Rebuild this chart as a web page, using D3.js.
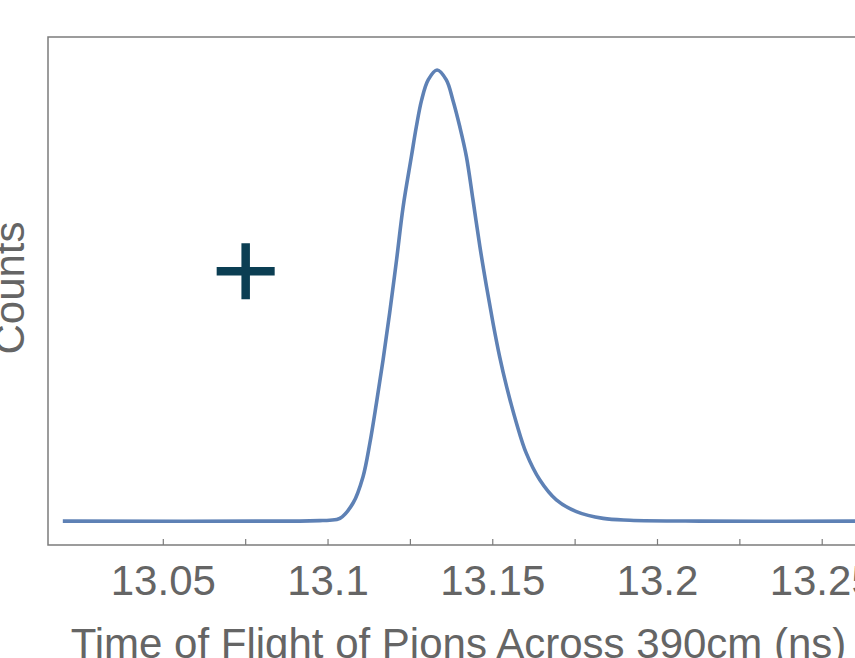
<!DOCTYPE html>
<html>
<head>
<meta charset="utf-8">
<script src="https://cdn.jsdelivr.net/npm/d3@7"></script>
<style>
  body { margin: 0; background: #fff; overflow: hidden; }
  text { font-family: "Liberation Sans", Arial, sans-serif; }
</style>
</head>
<body>
<div id="chart"></div>
<script>
// time of flight (ns) and fitted counts (arbitrary units)
var tof = [13.0195, 13.0914, 13.0975, 13.1005, 13.1036, 13.1076, 13.1106, 13.1127,
           13.1147, 13.1167, 13.1187, 13.1208, 13.1228, 13.1253, 13.1268, 13.1284,
           13.1304, 13.1331, 13.1359, 13.1379, 13.1400, 13.1420, 13.1440, 13.1461,
           13.1481, 13.1501, 13.1521, 13.1542, 13.1572, 13.1602, 13.1643, 13.1693,
           13.1754, 13.1835, 13.1916, 13.2128, 13.2700];
var counts = [0, 0, 0.1, 0.2, 0.6, 4.0, 9.8, 17.3,
              26.2, 35.7, 46.1, 57.9, 69.7, 80.8, 87.4, 93.3,
              97.8, 100, 97.8, 93.3, 87.4, 80.8, 71.2, 60.8,
              52.0, 43.8, 36.4, 29.8, 21.7, 15.0, 9.1, 4.7,
              2.1, 0.6, 0.2, 0, 0];

// marked point
var markX = [13.075];
var markY = [55.4];

var majorTicks = [13.05, 13.1, 13.15, 13.2, 13.25];
var minorTicks = [13.075, 13.125, 13.175, 13.225];
var tickLabels = ['13.05', '13.1', '13.15', '13.2', '13.25'];

var xTitle = 'Time of Flight of Pions Across 390cm (ns)';
var yTitle = 'Counts';

var W = 855, H = 658;
var frame = {left: 48, right: 869, top: 37, bottom: 545};

var xScale = d3.scaleLinear()
    .domain([13.015, 13.2642])
    .range([frame.left, frame.right]);
var yScale = d3.scaleLinear()
    .domain([-5.3, 107.3])
    .range([frame.bottom, frame.top]);

var svg = d3.select('#chart').append('svg')
    .attr('width', W)
    .attr('height', H);

var grey = '#7c7c7c';
var textGrey = '#656565';

// frame (left, top, bottom)
svg.append('path')
    .attr('d', 'M' + frame.right + ',' + frame.top + 'H' + frame.left + 'V' + frame.bottom + 'H' + frame.right)
    .attr('fill', 'none')
    .attr('stroke', grey)
    .attr('stroke-width', 1.5);

// ticks pointing inward
svg.selectAll('.tick')
    .data(majorTicks.concat(minorTicks))
    .enter().append('line')
    .attr('class', 'tick')
    .attr('x1', function(d){ return xScale(d); })
    .attr('x2', function(d){ return xScale(d); })
    .attr('y1', frame.bottom)
    .attr('y2', frame.bottom - 6)
    .attr('stroke', grey)
    .attr('stroke-width', 1.2);

svg.selectAll('.tickLabel')
    .data(majorTicks)
    .enter().append('text')
    .attr('class', 'tickLabel')
    .attr('x', function(d){ return xScale(d); })
    .attr('y', 595)
    .attr('text-anchor', 'middle')
    .attr('fill', textGrey)
    .style('font-size', '42px')
    .text(function(d, i){ return tickLabels[i]; });

// curve
var line = d3.line()
    .curve(d3.curveCatmullRom.alpha(0.5))
    .x(function(d){ return xScale(d[0]); })
    .y(function(d){ return yScale(d[1]); });

svg.append('path')
    .datum(d3.zip(tof, counts))
    .attr('fill', 'none')
    .attr('stroke', '#5e81b5')
    .attr('stroke-width', 3.6)
    .attr('stroke-linejoin', 'round')
    .attr('d', line);

// plus marker
svg.selectAll('.mark')
    .data(d3.zip(markX, markY))
    .enter().append('path')
    .attr('class', 'mark')
    .attr('transform', function(d){ return 'translate(' + xScale(d[0]) + ',' + yScale(d[1]) + ')'; })
    .attr('d', 'M-29,0H29M0,-28V28')
    .attr('stroke', '#0b3e53')
    .attr('stroke-width', 8.5)
    .attr('fill', 'none');

// axis titles
svg.append('text')
    .attr('x', (frame.left + frame.right) / 2)
    .attr('y', 658)
    .attr('text-anchor', 'middle')
    .attr('fill', textGrey)
    .style('font-size', '42px')
    .text(xTitle);

svg.append('text')
    .attr('transform', 'translate(24,288) rotate(-90)')
    .attr('text-anchor', 'middle')
    .attr('fill', textGrey)
    .style('font-size', '42px')
    .text(yTitle);
</script>
</body>
</html>
